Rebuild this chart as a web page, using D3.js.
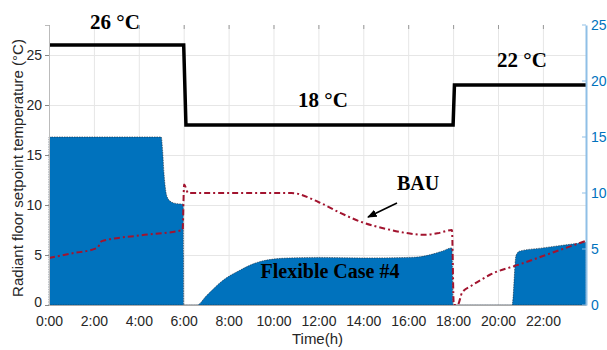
<!DOCTYPE html>
<html>
<head>
<meta charset="utf-8">
<script src="https://cdn.jsdelivr.net/npm/d3@7"></script>
<style>
  html, body { margin: 0; padding: 0; background: #fff; }
  svg { display: block; }
</style>
</head>
<body>
<svg id="chart" width="607" height="350"></svg>
<script>
// Hour-of-day tick positions and their labels
const xTicks = [0, 2, 4, 6, 8, 10, 12, 14, 16, 18, 20, 22];
const xTickLabels = ["0:00", "2:00", "4:00", "6:00", "8:00", "10:00", "12:00", "14:00", "16:00", "18:00", "20:00", "22:00"];
const leftTicks = [0, 5, 10, 15, 20, 25];
const rightTicks = [0, 5, 10, 15, 20, 25];

// Radiant floor setpoint schedule (left axis, °C)
const setpointHours = [0, 6.0, 6.1, 18.0, 18.06, 23.92];
const setpointTemps = [26, 26, 18, 18, 22, 22];

// Flexible Case #4 (right axis)
const flexHours = [0, 5.0, 5.06, 5.12, 5.2, 5.3, 5.45, 5.7, 5.98, 6.0, 6.6, 7.0, 7.75, 8.5, 9.27, 10.0, 10.7, 12.0, 14.0, 16.0, 16.5, 17.0, 17.5, 17.95, 18.0, 20.63, 20.8, 20.95, 22.0, 23.92];
const flexValues = [15, 15, 13.8, 11.8, 10.2, 9.5, 9.2, 9.05, 9.0, 0, 0, 0.8, 2.2, 3.1, 3.8, 4.1, 4.2, 4.25, 4.2, 4.25, 4.3, 4.5, 4.8, 5.1, 0, 0, 4.4, 4.8, 5.1, 5.6];

// BAU case (right axis)
const bauHours = [0, 1.0, 2.15, 2.35, 4.0, 5.95, 6.02, 6.2, 8.0, 10.8, 12.0, 13.0, 14.0, 15.0, 16.0, 16.7, 17.3, 17.95, 18.03, 18.2, 18.4, 18.8, 19.2, 19.64, 21.0, 22.0, 23.92];
const bauValues = [4.2, 4.6, 5.1, 5.7, 6.2, 6.7, 10.75, 10.0, 10.0, 10.0, 9.2, 8.2, 7.35, 6.8, 6.4, 6.27, 6.4, 6.7, 0, 0, 1.1, 1.7, 2.2, 2.7, 3.65, 4.37, 5.73];

const svg = d3.select("#chart");
const plotLeft = 49, plotRight = 586, plotTop = 25, plotBottom = 305;

const x = d3.scaleLinear().domain([0, 23.92]).range([plotLeft, plotRight]);
const yL = d3.scaleLinear().domain([0, 28]).range([plotBottom, plotTop]);
const yR = d3.scaleLinear().domain([0, 25]).range([plotBottom, plotTop]);

const axisFont = "'Liberation Sans', Arial, Helvetica, sans-serif";
const serifFont = "'Liberation Serif', 'Times New Roman', serif";

// Grid
const grid = svg.append("g").attr("stroke", "#e6e6e6").attr("stroke-width", 1);
xTicks.forEach(t => {
  grid.append("line").attr("x1", x(t) + 0.5).attr("x2", x(t) + 0.5).attr("y1", plotTop).attr("y2", plotBottom);
});
leftTicks.forEach(t => {
  grid.append("line").attr("x1", plotLeft).attr("x2", plotRight).attr("y1", yL(t) + 0.5).attr("y2", yL(t) + 0.5);
});

// Flexible case area
const flexData = flexHours.map((h, i) => [h, flexValues[i]]);
const area = d3.area()
  .x(d => x(d[0]))
  .y0(yR(0))
  .y1(d => yR(d[1]))
  .curve(d3.curveMonotoneX);
svg.append("path")
  .datum(flexData)
  .attr("d", area)
  .attr("fill", "#0072BD")
  .attr("stroke", "#1b2a3a")
  .attr("stroke-width", 0.6)
  .attr("stroke-dasharray", "1.5,1");

// BAU line
const bauData = bauHours.map((h, i) => [h, bauValues[i]]);
const bauLine = d3.line()
  .x(d => x(d[0]))
  .y(d => yR(d[1]))
  .curve(d3.curveMonotoneX);
svg.append("path")
  .datum(bauData)
  .attr("d", bauLine)
  .attr("fill", "none")
  .attr("stroke", "#A2142F")
  .attr("stroke-width", 2)
  .attr("stroke-dasharray", "6,3,2,3");

// Setpoint line
const spData = setpointHours.map((h, i) => [h, setpointTemps[i]]);
svg.append("path")
  .datum(spData)
  .attr("d", d3.line().x(d => x(d[0])).y(d => yL(d[1])))
  .attr("fill", "none")
  .attr("stroke", "#000")
  .attr("stroke-width", 3.5)
  .attr("stroke-linejoin", "miter");

// Bottom axis
const xAxis = d3.axisBottom(x)
  .tickValues(xTicks)
  .tickFormat((d, i) => xTickLabels[i])
  .tickSize(0)
  .tickPadding(11);
const gx = svg.append("g").attr("transform", `translate(0,${plotBottom})`).call(xAxis);
gx.select(".domain").attr("stroke", "#aaa");
gx.selectAll("text").attr("fill", "#262626").style("font-family", axisFont).style("font-size", "14px");

// Top tick marks
const topTicks = svg.append("g").attr("stroke", "#999").attr("stroke-width", 1);
xTicks.forEach(t => {
  topTicks.append("line").attr("x1", x(t) + 0.5).attr("x2", x(t) + 0.5).attr("y1", plotTop).attr("y2", plotTop + 4);
});

// Left axis
const yAxisL = d3.axisLeft(yL).tickValues(leftTicks).tickSize(4).tickPadding(3);
const gl = svg.append("g").attr("transform", `translate(${plotLeft},0)`).call(yAxisL);
gl.select(".domain").attr("stroke", "#bbb");
gl.selectAll(".tick line").attr("stroke", "#888");
gl.selectAll("text").attr("fill", "#262626").style("font-family", axisFont).style("font-size", "14px");
// lift the zero label a little so it clears the first time label
gl.selectAll(".tick").filter(d => d === 0).select("text").attr("dy", "0.1em");

// Right axis
const yAxisR = d3.axisRight(yR).tickValues(rightTicks).tickSize(0).tickPadding(5);
const gr = svg.append("g").attr("transform", `translate(${plotRight},0)`).call(yAxisR);
gr.select(".domain").attr("stroke", "#8fbfe6").attr("stroke-width", 2);
gr.selectAll("text").attr("fill", "#0072BD").style("font-family", axisFont).style("font-size", "14px");
rightTicks.forEach(t => {
  svg.append("line").attr("x1", plotRight - 4).attr("x2", plotRight).attr("y1", yR(t)).attr("y2", yR(t))
    .attr("stroke", "#8fbfe6").attr("stroke-width", 1);
});

// Axis titles
svg.append("text")
  .attr("x", (plotLeft + plotRight) / 2)
  .attr("y", 344)
  .attr("text-anchor", "middle")
  .attr("fill", "#262626")
  .style("font-family", axisFont)
  .style("font-size", "15px")
  .text("Time(h)");

svg.append("text")
  .attr("transform", "translate(23,168) rotate(-90)")
  .attr("text-anchor", "middle")
  .attr("fill", "#262626")
  .style("font-family", axisFont)
  .style("font-size", "15px")
  .text("Radiant floor setpoint temperature (°C)");

// Annotations
const notes = [
  { text: "26 °C", x: 115, y: 29, size: 21 },
  { text: "18 °C", x: 323, y: 107, size: 21 },
  { text: "22 °C", x: 522, y: 67, size: 21 },
  { text: "BAU", x: 418, y: 190, size: 20 },
  { text: "Flexible Case #4", x: 330, y: 278, size: 20 }
];
notes.forEach(n => {
  svg.append("text")
    .attr("x", n.x).attr("y", n.y)
    .attr("text-anchor", "middle")
    .attr("fill", "#000")
    .style("font-family", serifFont)
    .style("font-weight", "bold")
    .style("font-size", n.size + "px")
    .text(n.text);
});

// Arrow pointing at the BAU curve
const defs = svg.append("defs");
defs.append("marker")
  .attr("id", "arrowhead")
  .attr("viewBox", "0 0 10 10")
  .attr("refX", 9).attr("refY", 5)
  .attr("markerWidth", 6).attr("markerHeight", 6)
  .attr("markerUnits", "strokeWidth")
  .attr("orient", "auto")
  .append("path").attr("d", "M0,1 L10,5 L0,9 Z").attr("fill", "#000");
svg.append("line")
  .attr("x1", 397).attr("y1", 203)
  .attr("x2", 368).attr("y2", 217)
  .attr("stroke", "#000").attr("stroke-width", 1.6)
  .attr("marker-end", "url(#arrowhead)");
</script>
</body>
</html>
